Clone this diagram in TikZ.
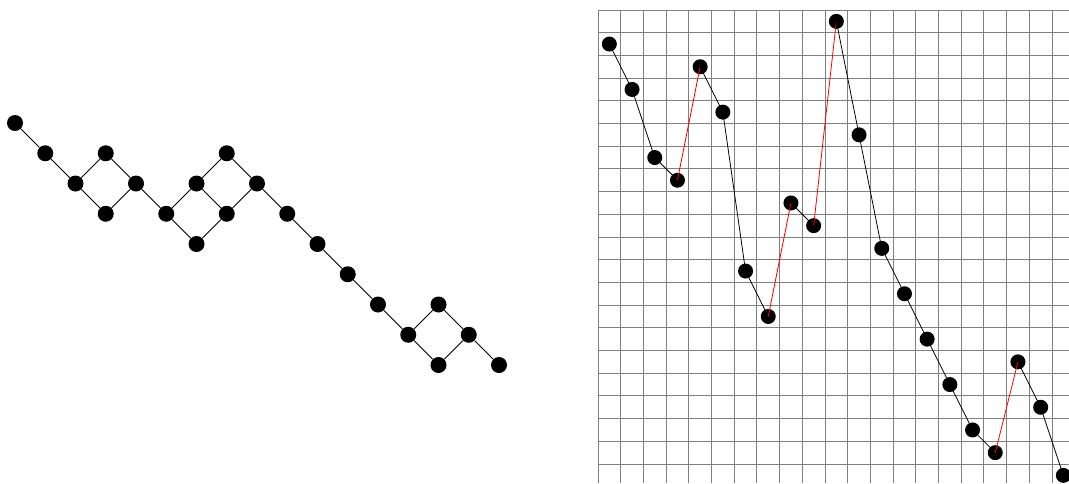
\documentclass[tikz,border=0pt]{standalone}
\begin{document}
\begin{tikzpicture}[x=1pt,y=-1pt,
  dot/.style={circle,fill=black,inner sep=0pt,minimum size=16pt},
  rdot/.style={circle,fill=black,inner sep=0pt,minimum size=15pt},
  edge/.style={black,line width=0.8pt},
  redge/.style={red,line width=0.8pt},
  gridline/.style={black!50,line width=0.9pt}]
\useasboundingbox (0,0) rectangle (1069,483);
% left graph
\def\u{30.25}
\foreach \n/\c/\r in {0/0/0,1/1/1,2/2/2,3/3/1,4/3/3,5/4/2,6/5/3,7/6/2,8/6/4,9/7/1,10/7/3,11/8/2,12/9/3,13/10/4,14/11/5,15/12/6,16/13/7,17/14/6,18/14/8,19/15/7,20/16/8}
  \node[dot] (L\n) at ({15+\c*\u},{123+\r*\u}) {};
\foreach \a/\b in {0/1,1/2,2/3,2/4,3/5,4/5,5/6,6/7,6/8,7/9,7/10,8/10,9/11,10/11,11/12,12/13,13/14,14/15,15/16,16/17,16/18,17/19,18/19,19/20}
  \draw[edge] (L\a) -- (L\b);
% grid
\begin{scope}
  \clip (597.4,9.4) rectangle (1069,483);
  \foreach \k in {0,...,21} {
    \draw[gridline] ({598+22.7*\k},10) -- ({598+22.7*\k},483);
    \draw[gridline] (598,{10+22.7*\k}) -- (1069,{10+22.7*\k});
  }
\end{scope}
% permutation points
\foreach \r [count=\i from 0] in {1,3,6,7,2,4,11,13,8,9,0,5,10,12,14,16,18,19,15,17,20}
  \node[rdot] (P\i) at ({598+22.7*(\i+0.5)},{10+22.7*(\r+0.5)}) {};
\foreach \i/\s in {0/edge,1/edge,2/edge,3/redge,4/edge,5/edge,6/edge,7/redge,8/edge,9/redge,10/edge,11/edge,12/edge,13/edge,14/edge,15/edge,16/edge,17/redge,18/edge,19/edge} {
  \pgfmathtruncatemacro\j{\i+1}
  \draw[\s] (P\i.center) -- (P\j.center);
}
\end{tikzpicture}
\end{document}
